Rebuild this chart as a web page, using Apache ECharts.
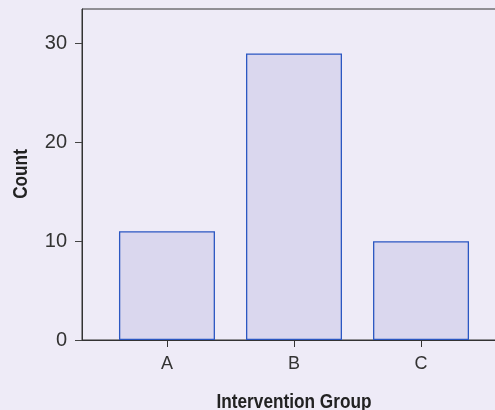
<!DOCTYPE html>
<html>
<head>
<meta charset="utf-8">
<script src="https://cdn.jsdelivr.net/npm/echarts@6/dist/echarts.min.js"></script>
<style>
html,body{margin:0;padding:0;background:#EEEBF7;overflow:hidden;}
#c{width:520px;height:410px;}
</style>
</head>
<body>
<div id="c"></div>
<script>
const categories = ['A', 'B', 'C'];
const counts = [11, 29, 10];
const yTicks = [0, 10, 20, 30];
const xTitle = 'Intervention Group';
const yTitle = 'Count';

const positions = categories.map((c, i) => i + 1);
const barData = counts.map((v, i) => [positions[i], v]);

const G = {left: 82, top: 9, width: 424, height: 331};
const nameFont = {fontFamily: 'Liberation Sans, Arial', fontWeight: 'bold', fontSize: 21, fill: '#222'};

const chart = echarts.init(document.getElementById('c'), null, {renderer: 'canvas'});
chart.setOption({
  backgroundColor: '#EEEBF7',
  animation: false,
  grid: {
    left: G.left, top: G.top, width: G.width, height: G.height,
    outerBoundsMode: 'none', containLabel: false,
    show: true, borderColor: '#333', borderWidth: 1, backgroundColor: '#EEEBF7'
  },
  xAxis: {
    type: 'value',
    min: 0.331, max: 3.669,
    splitLine: {show: false},
    axisLine: {show: true, onZero: false, lineStyle: {color: '#333', width: 1}},
    axisTick: {show: true, customValues: positions, length: 7, lineStyle: {color: '#333'}},
    axisLabel: {
      customValues: positions,
      margin: 15,
      fontSize: 18, color: '#333', fontFamily: 'Liberation Sans',
      formatter: v => categories[Math.round(v) - 1] || ''
    }
  },
  yAxis: {
    type: 'value',
    min: 0, max: 33.5, interval: 10,
    splitLine: {show: false},
    axisLine: {show: true, lineStyle: {color: '#333', width: 1}},
    axisTick: {show: true, customValues: yTicks, length: 7, lineStyle: {color: '#444'}},
    axisLabel: {
      customValues: yTicks,
      margin: 15, fontSize: 20, color: '#333', fontFamily: 'Liberation Sans',
      formatter: v => String(v)
    }
  },
  graphic: [
    {
      type: 'text',
      x: G.left + G.width / 2, y: 402,
      scaleX: 0.82,
      style: Object.assign({text: xTitle, align: 'center', verticalAlign: 'middle'}, nameFont)
    },
    {
      type: 'text',
      x: 21, y: 174,
      rotation: Math.PI / 2,
      scaleX: 0.82,
      style: Object.assign({text: yTitle, align: 'center', verticalAlign: 'middle'}, nameFont)
    }
  ],
  series: [{
    type: 'bar',
    data: barData,
    barWidth: 96,
    itemStyle: {color: '#DAD7EE', borderColor: '#2B57C2', borderWidth: 1.3}
  }]
});
</script>
</body>
</html>
